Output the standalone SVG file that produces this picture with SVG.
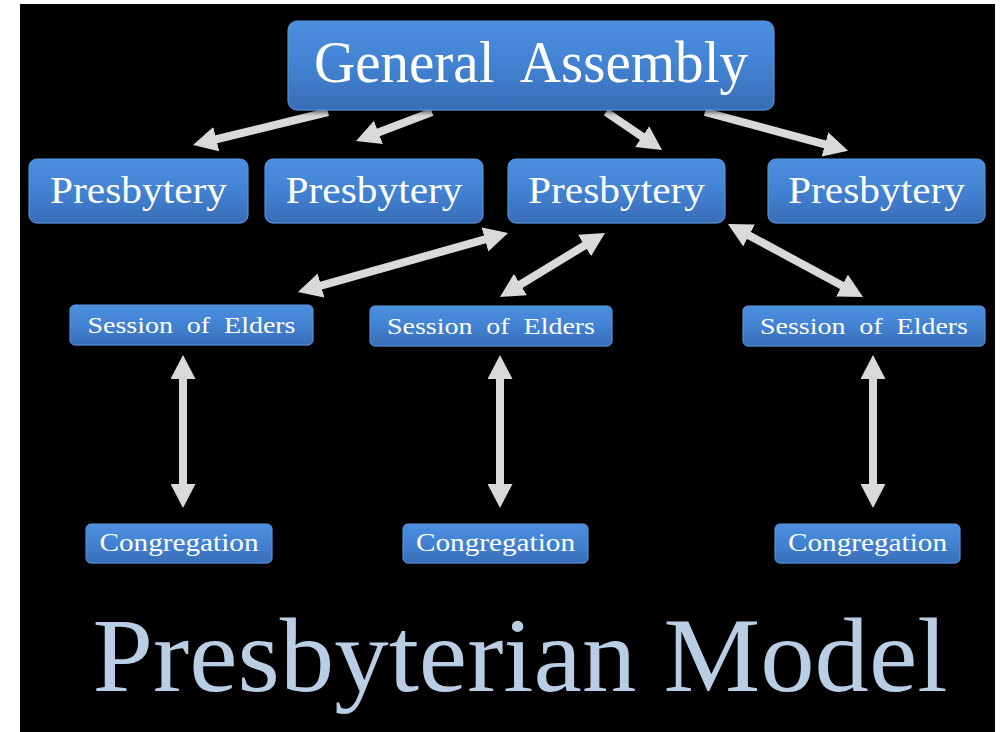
<svg xmlns="http://www.w3.org/2000/svg" width="1007" height="732" viewBox="0 0 1007 732">
<style>
.box{fill:url(#bg);stroke:#5b95dc;stroke-width:1}
.t{font-family:"Liberation Serif","DejaVu Serif",serif;fill:#ffffff;text-anchor:middle;white-space:pre}
.arr{stroke:#d9d9d9;stroke-width:8;fill:none}
</style>
<defs>
<linearGradient id="bg" x1="0" y1="0" x2="0" y2="1">
<stop offset="0" stop-color="#4b8fde"/>
<stop offset="0.5" stop-color="#4282d2"/>
<stop offset="1" stop-color="#386db6"/>
</linearGradient>
<filter id="sh" x="-10%" y="-10%" width="120%" height="130%">
<feDropShadow dx="0" dy="2" stdDeviation="2" flood-color="#000" flood-opacity="0.6"/>
</filter>
<marker id="ah" markerUnits="userSpaceOnUse" viewBox="0 0 24 25" markerWidth="24" markerHeight="25" refX="1" refY="12.5" orient="auto-start-reverse">
<path d="M0,0 L24,12.5 L0,25 z" fill="#d9d9d9"/>
</marker>
</defs>
<rect x="0" y="0" width="1007" height="732" fill="#ffffff"/>
<rect x="20" y="4" width="975" height="728" fill="#000000"/>

<g id="connectors">
<line class="arr" x1="328" y1="112" x2="215.3" y2="139.5" marker-end="url(#ah)"/>
<line class="arr" x1="432" y1="112" x2="377.5" y2="132.8" marker-end="url(#ah)"/>
<line class="arr" x1="606" y1="112" x2="643" y2="137.1" marker-end="url(#ah)"/>
<line class="arr" x1="705" y1="112" x2="825.9" y2="144.7" marker-end="url(#ah)"/>
<line class="arr" x1="485.9" y1="239.2" x2="320.1" y2="285.8" marker-start="url(#ah)" marker-end="url(#ah)"/>
<line class="arr" x1="585.4" y1="245" x2="519.6" y2="285" marker-start="url(#ah)" marker-end="url(#ah)"/>
<line class="arr" x1="748.2" y1="234.9" x2="842.8" y2="286.1" marker-start="url(#ah)" marker-end="url(#ah)"/>
<line class="arr" x1="183" y1="378" x2="183" y2="485" marker-start="url(#ah)" marker-end="url(#ah)"/>
<line class="arr" x1="500" y1="378" x2="500" y2="485" marker-start="url(#ah)" marker-end="url(#ah)"/>
<line class="arr" x1="873" y1="378" x2="873" y2="485" marker-start="url(#ah)" marker-end="url(#ah)"/>
</g>

<g id="general-assembly">
<rect class="box" x="288" y="21" width="486" height="89" rx="9" filter="url(#sh)"/>
<text class="t" x="531" y="82" font-size="59" textLength="434" lengthAdjust="spacingAndGlyphs" xml:space="preserve">General  Assembly</text>
</g>

<g id="presbytery-1">
<rect class="box" x="29" y="159" width="219" height="64" rx="8" filter="url(#sh)"/>
<text class="t" x="138.5" y="203" font-size="38" textLength="177" lengthAdjust="spacingAndGlyphs">Presbytery</text>
</g>
<g id="presbytery-2">
<rect class="box" x="265" y="159" width="218" height="64" rx="8" filter="url(#sh)"/>
<text class="t" x="374" y="203" font-size="38" textLength="177" lengthAdjust="spacingAndGlyphs">Presbytery</text>
</g>
<g id="presbytery-3">
<rect class="box" x="508" y="159" width="217" height="64" rx="8" filter="url(#sh)"/>
<text class="t" x="616.5" y="203" font-size="38" textLength="177" lengthAdjust="spacingAndGlyphs">Presbytery</text>
</g>
<g id="presbytery-4">
<rect class="box" x="768" y="159" width="217" height="64" rx="8" filter="url(#sh)"/>
<text class="t" x="876.5" y="203" font-size="38" textLength="177" lengthAdjust="spacingAndGlyphs">Presbytery</text>
</g>

<g id="session-1">
<rect class="box" x="70" y="305" width="243" height="40" rx="5" filter="url(#sh)"/>
<text class="t" x="191.5" y="333" font-size="24" textLength="208" lengthAdjust="spacingAndGlyphs" xml:space="preserve">Session  of  Elders</text>
</g>
<g id="session-2">
<rect class="box" x="370" y="306" width="242" height="40" rx="5" filter="url(#sh)"/>
<text class="t" x="491" y="334" font-size="24" textLength="208" lengthAdjust="spacingAndGlyphs" xml:space="preserve">Session  of  Elders</text>
</g>
<g id="session-3">
<rect class="box" x="743" y="306" width="242" height="40" rx="5" filter="url(#sh)"/>
<text class="t" x="864" y="334" font-size="24" textLength="208" lengthAdjust="spacingAndGlyphs" xml:space="preserve">Session  of  Elders</text>
</g>

<g id="congregation-1">
<rect class="box" x="86" y="524" width="186" height="39" rx="5" filter="url(#sh)"/>
<text class="t" x="179" y="551" font-size="25" textLength="159" lengthAdjust="spacingAndGlyphs">Congregation</text>
</g>
<g id="congregation-2">
<rect class="box" x="403" y="524" width="185" height="39" rx="5" filter="url(#sh)"/>
<text class="t" x="495.5" y="551" font-size="25" textLength="159" lengthAdjust="spacingAndGlyphs">Congregation</text>
</g>
<g id="congregation-3">
<rect class="box" x="775" y="524" width="185" height="39" rx="5" filter="url(#sh)"/>
<text class="t" x="867.5" y="551" font-size="25" textLength="159" lengthAdjust="spacingAndGlyphs">Congregation</text>
</g>

<text x="520" y="691" font-family="'Liberation Serif','DejaVu Serif',serif" font-size="105" fill="#b9cde5" text-anchor="middle" textLength="855" lengthAdjust="spacingAndGlyphs">Presbyterian Model</text>
</svg>
